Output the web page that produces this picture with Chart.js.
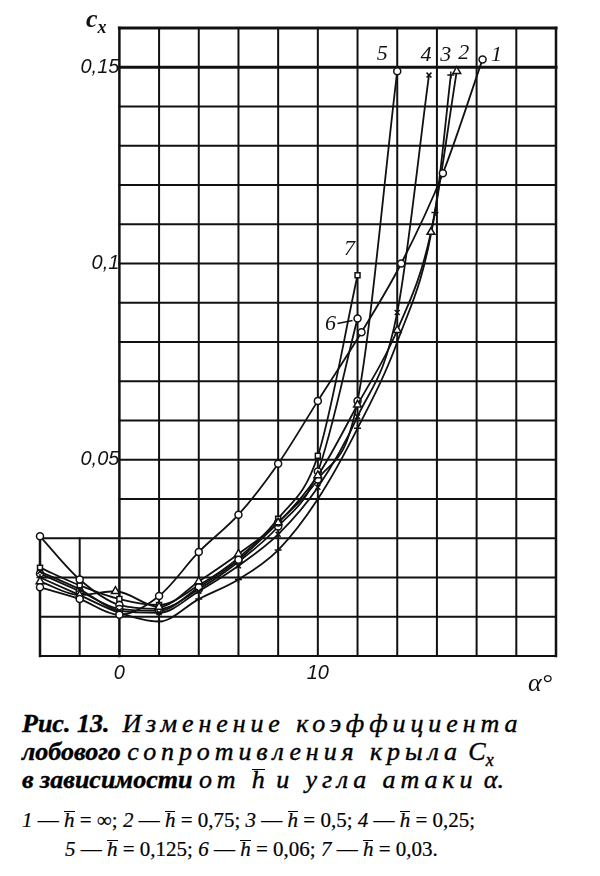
<!DOCTYPE html>
<html lang="ru">
<head>
<meta charset="UTF-8">
<title>Рис. 13. Изменение коэффициента лобового сопротивления</title>
<script src="https://cdn.jsdelivr.net/npm/chart.js"></script>
<style>
  body { margin: 0; background: #fff; width: 600px; height: 876px; overflow: hidden; position: relative; color: #111; }
  .chart-box { position: absolute; left: 0; top: 0; width: 600px; height: 690px; }
  .ax { position: absolute; font-family: "Liberation Serif", serif; font-style: italic; font-weight: bold; font-size: 26px; line-height: 1; }
  .cap { position: absolute; left: 22px; white-space: nowrap; font-family: "Liberation Serif", serif; font-style: italic; font-size: 26px; line-height: 1; color: #000; -webkit-text-stroke: 0.4px #000; }
  .cap b { font-weight: bold; }
  .sp { letter-spacing: 4.9px; }
  .leg { font-size: 21px; font-style: normal; -webkit-text-stroke: 0.2px #000; }
  .leg i { font-style: italic; }
  .ov { display: inline-block; line-height: 0.8; border-top: 1.5px solid #000; font-style: italic; letter-spacing: 0; }
</style>
</head>
<body>
<div class="chart-box">
  <canvas id="cxChart" width="600" height="690"></canvas>
</div>
<div class="ax" style="left:86px; top:6px;">c<sub style="font-size:18px;">x</sub></div>
<div class="ax" style="left:528px; top:670px; font-weight:normal;">α°</div>

<div class="cap" style="top:711px;"><b>Рис. 13.</b>&nbsp; <span class="sp">Изменение коэффициента</span></div>
<div class="cap" style="top:739px;"><b>лобового</b> <span class="sp">сопротивления крыла</span> C<sub style="font-size:18px;">x</sub></div>
<div class="cap" style="top:767px;"><b>в зависимости</b> <span class="sp">от <span class="ov">h</span> и угла атаки</span> α.</div>
<div class="cap leg" style="top:810px;"><i>1</i> — <span class="ov">h</span> = ∞; <i>2</i> — <span class="ov">h</span> = 0,75; <i>3</i> — <span class="ov">h</span> = 0,5; <i>4</i> — <span class="ov">h</span> = 0,25;</div>
<div class="cap leg" style="top:839px; left:65px;"><i>5</i> — <span class="ov">h</span> = 0,125; <i>6</i> — <span class="ov">h</span> = 0,06; <i>7</i> — <span class="ov">h</span> = 0,03.</div>

<script>
  // curve names (label numbers) and h values
  const curveNames = ['1', '2', '3', '4', '5', '6', '7'];
  const hValues = ['∞', '0,75', '0,5', '0,25', '0,125', '0,06', '0,03'];

  // angle of attack (deg) and Cx, one pair per curve
  const alpha1 = [-4, -2, 0, 2, 4, 6, 8, 10, 12.2, 14.2, 16.3, 18.3];
  const cx1 = [0.0175, 0.0145, 0.0105, 0.0153, 0.0265, 0.036, 0.049, 0.065, 0.0825, 0.1, 0.123, 0.152];

  const alpha2 = [-4, -2, -0.2, 2, 4, 6, 8, 10, 12, 14, 15.7, 17];
  const cx2 = [0.019, 0.0155, 0.0165, 0.0125, 0.019, 0.026, 0.034, 0.046, 0.064, 0.083, 0.108, 0.149];

  const alpha3 = [-4, -2, 0, 2, 4, 6, 8, 10, 12, 14, 15.9, 16.7];
  const cx3 = [0.020, 0.0155, 0.011, 0.0088, 0.0145, 0.0195, 0.027, 0.040, 0.058, 0.080, 0.113, 0.148];

  const alpha4 = [-4, -2, 0, 2, 4, 6, 8, 10, 12, 14, 15.6];
  const cx4 = [0.0215, 0.017, 0.0115, 0.011, 0.0165, 0.023, 0.031, 0.043, 0.061, 0.0875, 0.148];

  const alpha5 = [-4, -2, 0, 2, 4, 6, 8, 10, 12, 14];
  const cx5 = [0.021, 0.0165, 0.012, 0.0115, 0.0175, 0.0245, 0.034, 0.045, 0.065, 0.149];

  const alpha6 = [-4, -2, 0, 2, 4, 6, 8, 10, 12];
  const cx6 = [0.0305, 0.0195, 0.013, 0.012, 0.017, 0.024, 0.033, 0.047, 0.086];

  const alpha7 = [-4, -2, 0, 2, 4, 6, 8, 10, 12];
  const cx7 = [0.0225, 0.018, 0.0145, 0.013, 0.018, 0.025, 0.035, 0.051, 0.097];

  // axis ticks
  const xTicksShown = [0, 10];
  const yTickLabels = { '0.05': '0,05', '0.1': '0,1', '0.15': '0,15' };

  const alphas = [alpha1, alpha2, alpha3, alpha4, alpha5, alpha6, alpha7];
  const cxs = [cx1, cx2, cx3, cx4, cx5, cx6, cx7];

  // marker style per curve, and where its number sits relative to the last point
  const markers = ['circle', 'triangle', 'cross', 'crossRot', 'circle', 'circle', 'rect'];
  const labelOffsets = [[14, -4], [7, -18], [-5, -20], [-3, -20], [-15, -17], [-27, 6], [-8, -26]];

  const gridPlugin = {
    id: 'grid',
    beforeDatasetsDraw(chart) {
      const { ctx, scales: { x, y } } = chart;
      ctx.save();
      ctx.strokeStyle = '#111';
      ctx.lineCap = 'square';
      // horizontal lines: the left strip (alpha < 0) only reaches 0.03
      for (let k = 0; k <= 16; k++) {
        const v = k / 100;
        const from = k <= 3 ? -4 : 0;
        ctx.lineWidth = (k === 15 || k === 16) ? 3 : 2;
        ctx.beginPath();
        ctx.moveTo(x.getPixelForValue(from), y.getPixelForValue(v));
        ctx.lineTo(x.getPixelForValue(22), y.getPixelForValue(v));
        ctx.stroke();
      }
      for (let a = -4; a <= 22; a += 2) {
        const top = a < 0 ? 0.03 : 0.16;
        ctx.lineWidth = (a === -4 || a === 0 || a === 22) ? 2.5 : 2;
        ctx.beginPath();
        ctx.moveTo(x.getPixelForValue(a), y.getPixelForValue(0));
        ctx.lineTo(x.getPixelForValue(a), y.getPixelForValue(top));
        ctx.stroke();
      }
      ctx.restore();
    }
  };

  const curveLabelPlugin = {
    id: 'curveLabels',
    afterDatasetsDraw(chart) {
      const { ctx, scales: { x, y } } = chart;
      ctx.save();
      ctx.fillStyle = '#111';
      ctx.font = 'italic 22px "Liberation Serif", serif';
      ctx.textAlign = 'center';
      ctx.textBaseline = 'middle';
      curveNames.forEach((name, i) => {
        const n = alphas[i].length - 1;
        const px = x.getPixelForValue(alphas[i][n]) + labelOffsets[i][0];
        const py = y.getPixelForValue(cxs[i][n]) + labelOffsets[i][1];
        ctx.fillText(name, px, py);
      });
      // dash from "6" to its point
      const p6x = x.getPixelForValue(alpha6[alpha6.length - 1]);
      const p6y = y.getPixelForValue(cx6[cx6.length - 1]);
      ctx.lineWidth = 1.5;
      ctx.strokeStyle = '#111';
      ctx.beginPath();
      ctx.moveTo(p6x - 20, p6y + 5);
      ctx.lineTo(p6x - 5, p6y + 2);
      ctx.stroke();
      ctx.restore();
    }
  };

  const datasets = curveNames.map((name, i) => ({
    label: name + ' — h = ' + hValues[i],
    data: alphas[i].map((a, j) => ({ x: a, y: cxs[i][j] })),
    showLine: true,
    clip: false,
    borderColor: '#111',
    borderWidth: 1.8,
    cubicInterpolationMode: 'monotone',
    pointStyle: markers[i],
    pointRadius: markers[i] === 'triangle' ? 4.5 : 3.5,
    pointBackgroundColor: '#fff',
    pointBorderColor: '#111',
    pointBorderWidth: 1.5
  }));

  new Chart(document.getElementById('cxChart'), {
    type: 'scatter',
    data: { datasets: datasets },
    plugins: [gridPlugin, curveLabelPlugin],
    options: {
      responsive: false,
      animation: false,
      events: [],
      layout: { padding: { left: 40, right: 44, top: 28, bottom: 4 } },
      plugins: { legend: { display: false }, tooltip: { enabled: false } },
      scales: {
        x: {
          type: 'linear',
          min: -4,
          max: 22,
          grid: { display: false, drawTicks: false },
          border: { display: false },
          afterFit(scale) { scale.height = 30; },
          ticks: {
            stepSize: 2,
            autoSkip: false,
            maxRotation: 0,
            padding: 5,
            color: '#111',
            font: { family: '"Liberation Sans", sans-serif', style: 'italic', size: 20 },
            callback: v => xTicksShown.includes(v) ? String(v) : ''
          }
        },
        y: {
          type: 'linear',
          min: 0,
          max: 0.16,
          position: { x: 0 },
          grid: { display: false, drawTicks: false },
          border: { display: false },
          ticks: {
            stepSize: 0.01,
            autoSkip: false,
            padding: 4,
            color: '#111',
            font: { family: '"Liberation Sans", sans-serif', style: 'italic', size: 20 },
            callback: v => yTickLabels[String(Math.round(v * 100) / 100)] || ''
          }
        }
      }
    }
  });
</script>
</body>
</html>
